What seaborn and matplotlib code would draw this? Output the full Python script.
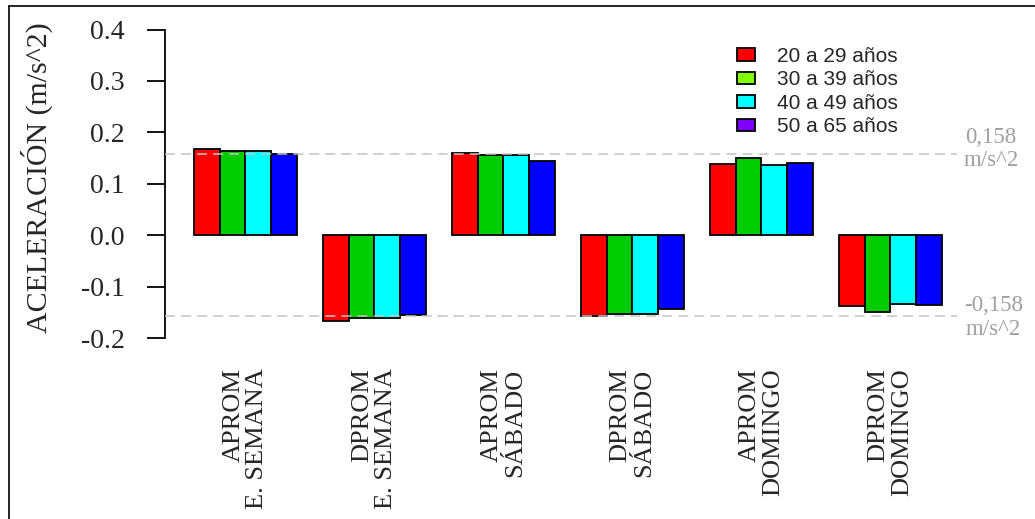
import numpy as np
import pandas as pd
import matplotlib
matplotlib.use("Agg")
import matplotlib.pyplot as plt
from matplotlib.patches import Patch
from matplotlib.lines import Line2D
import seaborn as sns

# Mean acceleration per trip type and age group (m/s^2)
categorias = ["APROM\nE. SEMANA", "DPROM\nE. SEMANA", "APROM\nSÁBADO",
              "DPROM\nSÁBADO", "APROM\nDOMINGO", "DPROM\nDOMINGO"]
grupos_edad = ["20 a 29 años", "30 a 39 años", "40 a 49 años", "50 a 65 años"]
edad_20_29 = [0.167, -0.167, 0.159, -0.157, 0.139, -0.138]
edad_30_39 = [0.163, -0.162, 0.156, -0.153, 0.151, -0.150]
edad_40_49 = [0.163, -0.162, 0.156, -0.153, 0.136, -0.134]
edad_50_65 = [0.158, -0.156, 0.144, -0.143, 0.140, -0.136]
umbral = 0.158
y_ticks = [-0.2, -0.1, 0.0, 0.1, 0.2, 0.3, 0.4]

colores_barras = ["#FF0000", "#00CC00", "#00FFFF", "#0000FF"]
colores_leyenda = ["#FF0000", "#80FF00", "#00FFFF", "#8000FF"]

series = [edad_20_29, edad_30_39, edad_40_49, edad_50_65]
df = pd.DataFrame({
    "categoria": np.tile(categorias, len(grupos_edad)),
    "edad": np.repeat(grupos_edad, len(categorias)),
    "aceleracion": np.concatenate(series),
})

sns.set_style("white")
plt.rcParams["font.family"] = ["Liberation Serif", "DejaVu Serif"]

W, H = 1035, 519
fig = plt.figure(figsize=(W / 100, H / 100), dpi=100)
ax = fig.add_axes([165 / W, 1 - 338 / H, 792 / W, 308.5 / H])

sns.barplot(data=df, x="categoria", y="aceleracion", hue="edad",
            order=categorias, hue_order=grupos_edad, palette=colores_barras,
            saturation=1, edgecolor="black", linewidth=1.3, width=0.8,
            errorbar=None, legend=False, ax=ax)

ax.set_xlim(-0.624, 5.516)
ax.set_ylim(-0.2, 0.4)

# Reference thresholds
for v in (umbral, -umbral):
    ax.axhline(v, color="#C4C4C4", lw=1.1, dashes=(6.5, 4), zorder=10)
ax.text(5.78, 0.168, "0,158\nm/s^2", ha="center", va="center",
        fontsize=16.5, color="#A0A0A0", linespacing=1.15, clip_on=False)
ax.text(5.80, -0.160, "-0,158\nm/s^2", ha="center", va="center",
        fontsize=16.5, color="#A0A0A0", linespacing=1.15, clip_on=False)

# Axes styling
for s in ("top", "right", "bottom"):
    ax.spines[s].set_visible(False)
ax.spines["left"].set_bounds(-0.2, 0.4)
ax.spines["left"].set_linewidth(1.3)
ax.spines["left"].set_color("black")
ax.set_yticks(y_ticks)
ax.set_yticklabels([f"{t:.1f}" for t in y_ticks])
ax.tick_params(axis="y", direction="out", length=13, width=1.3,
               color="black", pad=16, labelsize=20, left=True)
ax.tick_params(axis="x", length=0, pad=22)
for lab in ax.get_xticklabels():
    lab.set_rotation(90)
    lab.set_fontsize(19)
    lab.set_va("top")
    lab.set_ha("center")
    lab.set_multialignment("right")
    lab.set_linespacing(1.1)
ax.set_xlabel("")
ax.set_ylabel("")
fig.text(37 / W, 1 - 178 / H, "ACELERACIÓN (m/s^2)", rotation=90,
         ha="center", va="center", fontsize=21.5)

# Legend
handles = [Patch(facecolor=c, edgecolor="black", linewidth=1.3)
           for c in colores_leyenda]
ax.legend(handles, grupos_edad, loc="upper left",
          bbox_to_anchor=(737 / W, 1 - 47 / H), bbox_transform=fig.transFigure,
          frameon=False, borderpad=0, borderaxespad=0,
          prop={"family": "Liberation Sans", "size": 15},
          handlelength=0.87, handleheight=0.53, handletextpad=1.05,
          labelspacing=0.21)

# Outer frame (left and top edges)
fig.add_artist(Line2D([8.5 / W, 8.5 / W], [0, 1 - 6 / H], color="black",
                      lw=1.2, transform=fig.transFigure))
fig.add_artist(Line2D([8.5 / W, 1], [1 - 6 / H, 1 - 6 / H], color="black",
                      lw=1.2, transform=fig.transFigure))

fig.savefig("out.png", dpi=100, facecolor="white")
